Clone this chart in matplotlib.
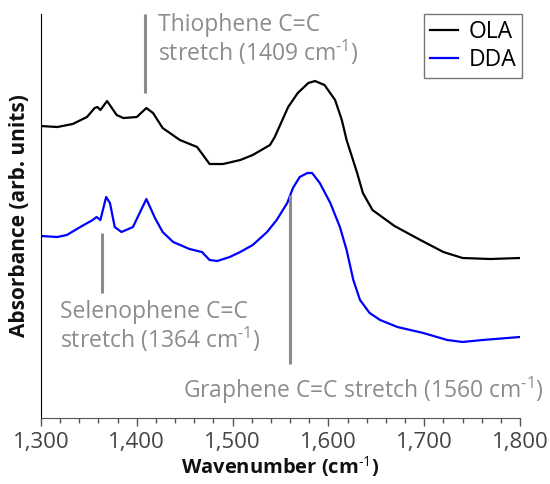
import numpy as np
import matplotlib
matplotlib.use("Agg")
import matplotlib.pyplot as plt
from matplotlib.ticker import MultipleLocator, FuncFormatter

# FTIR spectra, wavenumber (cm-1) vs absorbance (arb. units)
ola_wn = [1300, 1317, 1333, 1348, 1356, 1359, 1362, 1369, 1374, 1379, 1386, 1400,
          1410, 1417, 1427, 1445, 1463, 1476, 1490, 1508, 1521, 1539, 1544, 1558,
          1568, 1579, 1586, 1596, 1607, 1614, 1619, 1630, 1636, 1646, 1669, 1696,
          1720, 1740, 1769, 1800]
ola_abs = [2.92, 2.91, 2.94, 3.01, 3.10, 3.11, 3.08, 3.17, 3.10, 3.03, 3.00, 3.01,
           3.10, 3.05, 2.90, 2.78, 2.71, 2.54, 2.54, 2.58, 2.63, 2.73, 2.81, 3.11,
           3.25, 3.35, 3.37, 3.33, 3.18, 2.98, 2.78, 2.45, 2.25, 2.08, 1.92, 1.78,
           1.66, 1.60, 1.59, 1.60]

dda_wn = [1300, 1317, 1327, 1341, 1354, 1358, 1362, 1368, 1372, 1377, 1384, 1396,
          1410, 1419, 1427, 1438, 1455, 1468, 1476, 1484, 1497, 1508, 1521, 1536,
          1546, 1557, 1563, 1570, 1578, 1583, 1591, 1602, 1612, 1619, 1626, 1633,
          1643, 1654, 1672, 1699, 1724, 1740, 1761, 1800]
dda_abs = [1.82, 1.81, 1.83, 1.91, 1.98, 2.01, 1.98, 2.21, 2.15, 1.91, 1.86, 1.91,
           2.19, 2.00, 1.86, 1.76, 1.69, 1.66, 1.58, 1.57, 1.61, 1.66, 1.73, 1.86,
           1.98, 2.15, 2.30, 2.41, 2.45, 2.45, 2.35, 2.15, 1.91, 1.68, 1.38, 1.18,
           1.05, 0.98, 0.91, 0.85, 0.78, 0.76, 0.78, 0.81]

# Peak assignments: position, marker span (ymin, ymax)
thio_peak = 1409
thio_span = (3.25, 4.04)
seleno_peak = 1364
seleno_span = (1.25, 1.85)
graph_peak = 1560
graph_span = (0.54, 2.23)

plt.rcParams['font.family'] = ['Open Sans', 'DejaVu Sans']
plt.rcParams['mathtext.fontset'] = 'custom'
plt.rcParams['mathtext.rm'] = 'Open Sans'
plt.rcParams['mathtext.bf'] = 'Open Sans:bold'
plt.rcParams['mathtext.default'] = 'regular'

fig = plt.figure(figsize=(5.5, 4.84), dpi=100)
ax = fig.add_axes([0.0745, 0.1364, 0.871, 0.8346])

ax.plot(ola_wn, ola_abs, color='black', lw=1.6, label='OLA')
ax.plot(dda_wn, dda_abs, color='#0000ff', lw=1.6, label='DDA')

grey = '#8c8c8c'
sup = "cm$^{\\text{-1}}$"
ax.vlines(thio_peak, *thio_span, color=grey, lw=2.2)
ax.vlines(seleno_peak, *seleno_span, color=grey, lw=2.2)
ax.vlines(graph_peak, *graph_span, color=grey, lw=2.2)

ax.text(1422, 4.05, "Thiophene C=C\nstretch (%d %s)" % (thio_peak, sup),
        color=grey, fontsize=16.5, va='top', ha='left', linespacing=1.05)
ax.text(1320, 1.18, "Selenophene C=C\nstretch (%d %s)" % (seleno_peak, sup),
        color=grey, fontsize=16.5, va='top', ha='left', linespacing=1.05)
ax.text(1448, 0.28, "Graphene C=C stretch (%d %s)" % (graph_peak, sup),
        color=grey, fontsize=16.5, va='center', ha='left')

ax.set_xlim(1300, 1800)
ax.set_ylim(0, 4.04)
ax.xaxis.set_major_locator(MultipleLocator(100))
ax.xaxis.set_minor_locator(MultipleLocator(20))
ax.xaxis.set_major_formatter(FuncFormatter(lambda v, p: f"{int(v):,}"))
ax.set_yticks([])

ax.spines['top'].set_visible(False)
ax.spines['right'].set_visible(False)
ax.spines['bottom'].set_color('#555555')
ax.spines['left'].set_color('black')
ax.tick_params(axis='x', which='major', direction='out', length=6, width=1,
               color='#555555', labelsize=16, labelcolor='#444444', pad=4)
ax.tick_params(axis='x', which='minor', direction='out', length=3.5, width=1,
               color='#555555')

ax.set_xlabel("Wavenumber (cm$^{\\text{-1}}$)", fontsize=14.5, fontweight='bold',
              color='#111111', labelpad=1)
ax.set_ylabel("Absorbance (arb. units)", fontsize=15, fontweight='bold',
              color='#111111', labelpad=8)

leg = ax.legend(loc='upper right', bbox_to_anchor=(1.004, 1.0), fontsize=16.5,
                frameon=True, fancybox=False, handlelength=1.25, handletextpad=0.45,
                borderpad=0.25, labelspacing=0.2, borderaxespad=0)
leg.get_frame().set_edgecolor('#555555')
leg.get_frame().set_linewidth(1)

fig.savefig("out.png", dpi=100)
